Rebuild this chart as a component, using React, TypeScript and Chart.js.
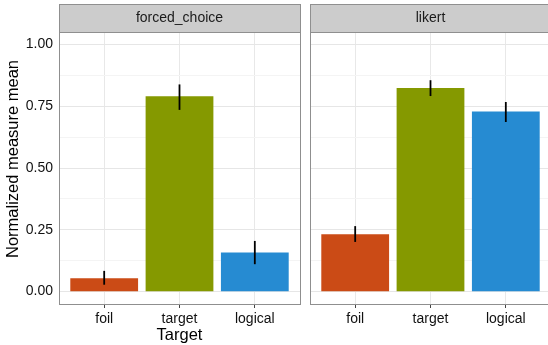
import React, { useEffect, useRef } from 'react';
import { Chart, registerables } from 'chart.js';

Chart.register(...registerables);

const CATEGORIES = ['foil', 'target', 'logical'];
const PANELS = ['forced_choice', 'likert'];
const FORCED_MEAN = [0.054, 0.79, 0.158];
const FORCED_LO = [0.028, 0.735, 0.111];
const FORCED_HI = [0.084, 0.838, 0.205];
const LIKERT_MEAN = [0.232, 0.824, 0.728];
const LIKERT_LO = [0.201, 0.791, 0.686];
const LIKERT_HI = [0.265, 0.855, 0.767];
const Y_MAJOR = [0, 0.25, 0.5, 0.75, 1];
const Y_MINOR = [0.125, 0.375, 0.625, 0.875];
const Y_LABELS = ['0.00', '0.25', '0.50', '0.75', '1.00'];
const COLORS = ['#cb4b16', '#859900', '#268bd2'];
const X_TITLE = 'Target';
const Y_TITLE = 'Normalized measure mean';

const FAMILY = '"Liberation Sans", Arial, Helvetica, sans-serif';

type Opts = {
  title: string;
  mean: number[];
  lo: number[];
  hi: number[];
  first: boolean;
  padLeft: number;
  padRight: number;
};

function makeChart(canvas: HTMLCanvasElement, o: Opts) {
  const facetPlugin = {
    id: 'facet' + o.title,
    afterDatasetsDraw(chart: any) {
      const { ctx, scales } = chart;
      const xs = scales.x;
      const ys = scales.y;
      ctx.save();
      ctx.strokeStyle = '#000';
      ctx.lineWidth = 1.8;
      o.mean.forEach((_, i) => {
        const x = xs.getPixelForValue(i);
        ctx.beginPath();
        ctx.moveTo(x, ys.getPixelForValue(o.lo[i]));
        ctx.lineTo(x, ys.getPixelForValue(o.hi[i]));
        ctx.stroke();
      });
      ctx.restore();
    },
    afterDraw(chart: any) {
      const { ctx, chartArea } = chart;
      const { left, right, top, bottom } = chartArea;
      ctx.save();
      ctx.fillStyle = '#cccccc';
      ctx.fillRect(left, 4, right - left, top - 4);
      ctx.strokeStyle = '#8f8f8f';
      ctx.lineWidth = 1;
      ctx.strokeRect(left + 0.5, 4.5, right - left, top - 4);
      ctx.strokeRect(left + 0.5, top + 0.5, right - left, bottom - top);
      ctx.fillStyle = '#1a1a1a';
      ctx.font = `14px ${FAMILY}`;
      ctx.textAlign = 'center';
      ctx.textBaseline = 'middle';
      ctx.fillText(o.title, (left + right) / 2, 18);
      if (o.first) {
        ctx.translate(13, 159);
        ctx.rotate(-Math.PI / 2);
        ctx.fillStyle = '#000';
        ctx.font = `16.5px ${FAMILY}`;
        ctx.fillText(Y_TITLE, 0, 0);
      }
      ctx.restore();
    },
  };

  const yTicks = [...Y_MAJOR, ...Y_MINOR].sort((a, b) => a - b);

  return new Chart(canvas, {
    type: 'bar',
    data: {
      datasets: [
        {
          data: o.mean.map((v, i) => ({ x: i, y: v })),
          backgroundColor: COLORS,
          borderWidth: 0,
          categoryPercentage: 1,
          barPercentage: 0.9,
        } as any,
      ],
    },
    options: {
      animation: false,
      responsive: false,
      events: [],
      layout: { padding: { top: 32, left: o.padLeft, right: o.padRight, bottom: 0 } },
      plugins: { legend: { display: false }, tooltip: { enabled: false } },
      scales: {
        x: {
          type: 'linear',
          min: -0.6,
          max: 2.6,
          offset: false,
          afterBuildTicks: (s: any) => {
            s.ticks = CATEGORIES.map((_, i) => ({ value: i }));
          },
          afterFit: (s: any) => {
            s.height = 41;
          },
          grid: { offset: false, color: '#e8e8e8', tickColor: '#444', tickLength: 4, lineWidth: 1 },
          border: { display: false },
          ticks: {
            callback: (_v: any, i: number) => CATEGORIES[i],
            font: { size: 14, family: FAMILY },
            color: '#111',
            padding: 3,
            maxRotation: 0,
            autoSkip: false,
          },
          title: {
            display: o.first,
            text: X_TITLE,
            font: { size: 16.5, family: FAMILY },
            color: '#000',
            padding: { top: 0, bottom: 0 },
          },
        } as any,
        y: {
          min: -0.05,
          max: 1.05,
          afterBuildTicks: (s: any) => {
            s.ticks = yTicks.map((v) => ({ value: v }));
          },
          afterFit: (s: any) => {
            s.width = o.first ? 59 : 0;
          },
          grid: {
            color: (c: any) => (Y_MAJOR.includes(c.tick?.value) ? '#e6e6e6' : '#f4f4f4'),
            drawTicks: false,
            lineWidth: 1,
          },
          border: { display: false },
          ticks: {
            display: o.first,
            callback: (v: any) => {
              const k = Y_MAJOR.indexOf(v);
              return k >= 0 ? Y_LABELS[k] : '';
            },
            font: { size: 14, family: FAMILY },
            color: '#111',
            padding: 6,
            autoSkip: false,
          },
        } as any,
      },
    },
    plugins: [facetPlugin],
  } as any);
}

export default function App() {
  const ref1 = useRef<HTMLCanvasElement>(null);
  const ref2 = useRef<HTMLCanvasElement>(null);
  useEffect(() => {
    const c1 = makeChart(ref1.current!, {
      title: PANELS[0],
      mean: FORCED_MEAN,
      lo: FORCED_LO,
      hi: FORCED_HI,
      first: true,
      padLeft: 0,
      padRight: 248,
    });
    const c2 = makeChart(ref2.current!, {
      title: PANELS[1],
      mean: LIKERT_MEAN,
      lo: LIKERT_LO,
      hi: LIKERT_HI,
      first: false,
      padLeft: 310,
      padRight: 1,
    });
    return () => {
      c1.destroy();
      c2.destroy();
    };
  }, []);
  return (
    <div
      style={{
        position: 'fixed',
        left: 0,
        top: 0,
        width: 548,
        height: 345,
        overflow: 'hidden',
        background: '#fff',
      }}
    >
      <canvas ref={ref1} width={548} height={345} style={{ position: 'absolute', left: 0, top: 0 }} />
      <canvas ref={ref2} width={552} height={345} style={{ position: 'absolute', left: 0, top: 0 }} />
    </div>
  );
}
